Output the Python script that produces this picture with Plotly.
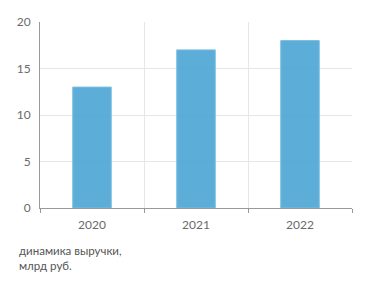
import plotly.graph_objects as go

categories = ["2020", "2021", "2022"]
values = [13, 17, 18]
y_ticks = [0, 5, 10, 15, 20]
caption = "динамика выручки,<br>млрд руб."

W, H = 371, 288
L, R, T, B = 40, 19, 22, 80

fig = go.Figure()
fig.add_trace(go.Bar(
    x=categories, y=values,
    marker=dict(color="rgba(74,164,211,0.9)", line=dict(color="rgba(120,190,225,1)", width=1)),
))

fig.update_layout(
    width=W, height=H,
    margin=dict(l=L, r=R, t=T, b=B),
    paper_bgcolor="white", plot_bgcolor="white",
    bargap=0.63,
    showlegend=False,
    font=dict(family="Lato, Open Sans, sans-serif", size=12, color="#777"),
    xaxis=dict(
        type="category", tickson="boundaries",
        showgrid=True, gridcolor="#e6e6e6", gridwidth=1,
        showline=True, linecolor="#999", linewidth=1,
        ticks="outside", ticklen=4, tickcolor="#999",
        ticklabelstandoff=6,
        tickfont=dict(size=12, color="#6a6a6a"),
        range=[-0.5, 2.5],
    ),
    yaxis=dict(
        range=[0, 20], tickvals=y_ticks,
        showgrid=True, gridcolor="#e6e6e6", gridwidth=1,
        showline=True, linecolor="#999", linewidth=1,
        zeroline=False,
        ticks="", ticklen=0,
        ticklabelstandoff=6,
        tickfont=dict(size=12, color="#6a6a6a"),
    ),
)

fig.add_annotation(
    xref="paper", yref="paper",
    x=(17 - L) / (W - L - R), y=-(242 - (H - B)) / (H - T - B),
    xanchor="left", yanchor="top", align="left",
    text=caption, showarrow=False,
    font=dict(size=11.5, color="#555"),
)

fig.write_html("out.html")
